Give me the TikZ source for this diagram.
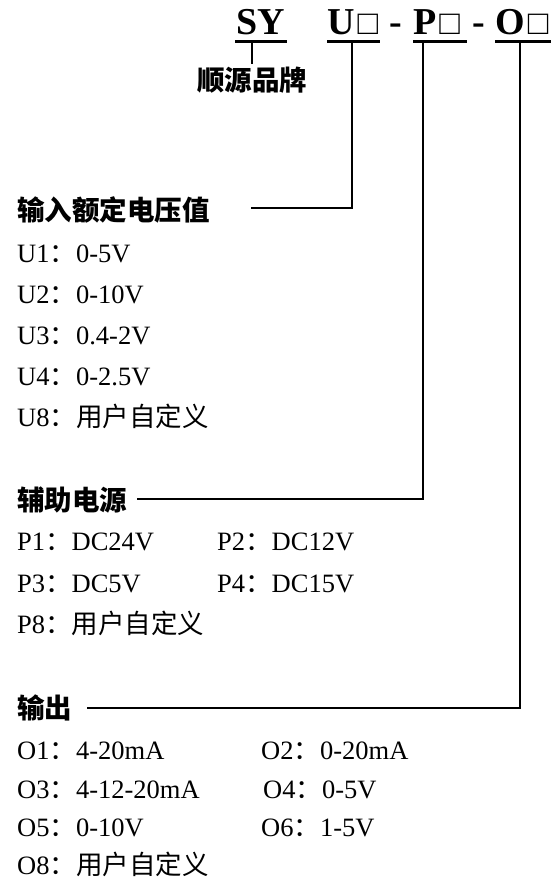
\documentclass[tikz,border=0pt]{standalone}
\usepackage{fontspec}
\setmainfont{Liberation Serif}
\newfontfamily\cjk{Noto Sans CJK SC}
\newcommand\colonzh{{\cjk ：}}
\newcommand\boxzh{{\mdseries\fontsize{34}{36}\selectfont\kern3pt □}}

\begin{document}
\begin{tikzpicture}
  [x=1pt, y=-1pt,
   code/.style={anchor=base west, inner sep=0pt, font=\fontsize{38}{40}\selectfont\bfseries},
   head/.style={anchor=base west, inner sep=0pt, font=\fontsize{27.5}{30}\selectfont\cjk\bfseries},
   item/.style={anchor=base west, inner sep=0pt, font=\fontsize{26.5}{30}\selectfont},
   uline/.style={line width=3pt},
   link/.style={line width=1.6pt}]

  \useasboundingbox (0,0) rectangle (558,890);

  % model code
  \node[code] (sy) at (236,35) {SY};
  \node[code] (u) at (327,35) {U\boxzh};
  \node[code] (d1) at (389,35) {-};
  \node[code] (p) at (413,35) {P\boxzh};
  \node[code] (d2) at (472,35) {-};
  \node[code] (o) at (495,35) {O\boxzh};

  \draw[uline] (235,42) -- (287,42);
  \draw[uline] (327,42) -- (380,42);
  \draw[uline] (413,42) -- (467,42);
  \draw[uline] (495,42) -- (551,42);

  % brand
  \node[head] (brand) at (197,90.5) {顺源品牌};

  % headings
  \node[head] (uhead) at (17,221) {输入额定电压值};
  \node[head] (phead) at (17,510) {辅助电源};
  \node[head] (ohead) at (17,718) {输出};

  % input options
  \node[item] (u1) at (17,262) {U1\colonzh 0-5V};
  \node[item] (u2) at (17,303) {U2\colonzh 0-10V};
  \node[item] (u3) at (17,344) {U3\colonzh 0.4-2V};
  \node[item] (u4) at (17,385) {U4\colonzh 0-2.5V};
  \node[item] (u8) at (17,426) {U8\colonzh{\cjk 用户自定义}};

  % power options
  \node[item] (p1) at (17,550) {P1\colonzh DC24V};
  \node[item] (p2) at (217,550) {P2\colonzh DC12V};
  \node[item] (p3) at (17,592) {P3\colonzh DC5V};
  \node[item] (p4) at (217,592) {P4\colonzh DC15V};
  \node[item] (p8) at (17,633) {P8\colonzh{\cjk 用户自定义}};

  % output options
  \node[item] (o1) at (17,759) {O1\colonzh 4-20mA};
  \node[item] (o2) at (261,759) {O2\colonzh 0-20mA};
  \node[item] (o3) at (17,798) {O3\colonzh 4-12-20mA};
  \node[item] (o4) at (263,798) {O4\colonzh 0-5V};
  \node[item] (o5) at (17,836) {O5\colonzh 0-10V};
  \node[item] (o6) at (261,836) {O6\colonzh 1-5V};
  \node[item] (o8) at (17,874) {O8\colonzh{\cjk 用户自定义}};

  % line ends
  \coordinate (sytop) at (252,42);
  \coordinate (utop) at (352,42);
  \coordinate (ptop) at (423,42);
  \coordinate (otop) at (520,42);
  \coordinate (uend) at (251,208);
  \coordinate (pend) at (137,499);
  \coordinate (oend) at (87,708);

  \draw[link] (sytop) -- ([yshift=3pt]brand.north -| sytop);
  \draw[link] (utop) |- (uend);
  \draw[link] (ptop) |- (pend);
  \draw[link] (otop) |- (oend);

\end{tikzpicture}
\end{document}
